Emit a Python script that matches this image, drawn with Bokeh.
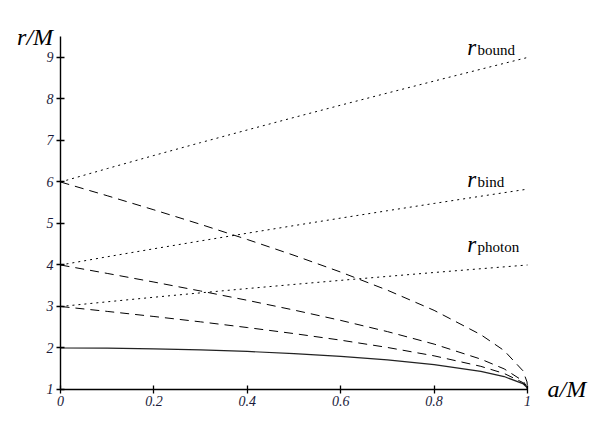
from bokeh.plotting import figure
from bokeh.models import Label, FixedTicker
from bokeh.embed import file_html
from bokeh.resources import INLINE

# spin parameter a/M (prograde curves sampled densely near a=1)
a_pro = [0, 0.1, 0.2, 0.3, 0.4, 0.5, 0.6, 0.7, 0.8, 0.9, 0.95, 0.99, 0.999, 1.0]
r_horizon = [2.0, 1.995, 1.980, 1.954, 1.917, 1.866, 1.800, 1.714, 1.600, 1.436, 1.312, 1.141, 1.045, 1.0]
r_photon_pro = [3.0, 2.882, 2.759, 2.630, 2.493, 2.347, 2.189, 2.013, 1.811, 1.558, 1.386, 1.168, 1.052, 1.0]
r_bound_pro = [4.0, 3.797, 3.589, 3.373, 3.149, 2.914, 2.665, 2.395, 2.094, 1.732, 1.497, 1.210, 1.064, 1.0]
r_isco_pro = [6.0, 5.669, 5.329, 4.979, 4.614, 4.233, 3.829, 3.393, 2.907, 2.321, 1.937, 1.454, 1.182, 1.0]

a_retro = [0, 0.1, 0.2, 0.3, 0.4, 0.5, 0.6, 0.7, 0.8, 0.9, 1.0]
r_photon_retro = [3.0, 3.113, 3.223, 3.329, 3.432, 3.532, 3.630, 3.725, 3.819, 3.910, 4.0]
r_bind_retro = [4.0, 4.198, 4.391, 4.580, 4.766, 4.949, 5.130, 5.308, 5.483, 5.657, 5.828]
r_bound_retro = [6.0, 6.323, 6.639, 6.949, 7.254, 7.555, 7.851, 8.143, 8.432, 8.717, 9.0]

x_ticks = [0, 0.2, 0.4, 0.6, 0.8, 1.0]
x_tick_labels = {0: "0", 0.2: "0.2", 0.4: "0.4", 0.6: "0.6", 0.8: "0.8", 1.0: "1"}
y_ticks = [1, 2, 3, 4, 5, 6, 7, 8, 9]

curve_labels = [("bound", 9.245), ("bind", 6.065), ("photon", 4.495)]

SERIF = "Liberation Serif"

p = figure(frame_width=595, frame_height=423,
           x_range=(-0.1285, 1.1456), y_range=(0.1807, 10.373),
           output_backend="svg", toolbar_location=None,
           min_border_left=0, min_border_right=0, min_border_top=0, min_border_bottom=0)
p.outline_line_color = None
p.xgrid.visible = False
p.ygrid.visible = False
p.background_fill_color = "white"
p.border_fill_color = "white"

p.xaxis[0].fixed_location = 1
p.yaxis[0].fixed_location = 0
p.xaxis[0].bounds = (0, 1)
p.yaxis[0].bounds = (1, 9.5)

for ax, ticks in ((p.xaxis[0], x_ticks), (p.yaxis[0], y_ticks)):
    ax.ticker = FixedTicker(ticks=ticks)
    ax.minor_tick_line_color = None
    ax.major_tick_in = 4
    ax.major_tick_out = 4
    ax.axis_line_color = "black"
    ax.axis_line_width = 1.4
    ax.major_tick_line_color = "black"
    ax.major_tick_line_width = 1.3
    ax.major_label_text_font = SERIF
    ax.major_label_text_font_style = "italic"
    ax.major_label_text_font_size = "14px"
    ax.major_label_text_color = "#1a1a3a"
    ax.major_label_standoff = 3
p.xaxis[0].major_label_overrides = x_tick_labels

# horizon (solid)
p.line(a_pro, r_horizon, line_color="#222222", line_width=1.2)
# prograde orbits (dashed)
for ys in (r_photon_pro, r_bound_pro, r_isco_pro):
    p.line(a_pro, ys, line_color="black", line_width=1.0, line_dash="9 6")
# retrograde orbits (dotted)
for ys in (r_photon_retro, r_bind_retro, r_bound_retro):
    p.line(a_retro, ys, line_color="black", line_width=1.0, line_dash="2 4")

for sub, yv in curve_labels:
    p.add_layout(Label(x=0.871, y=yv, text="r", text_font=SERIF, text_font_style="italic",
                       text_font_size="23px", text_color="black", text_baseline="alphabetic"))
    p.add_layout(Label(x=0.893, y=yv, y_offset=-3, text=sub, text_font=SERIF,
                       text_font_size="15px", text_color="black", text_baseline="alphabetic"))

p.add_layout(Label(x=-0.093, y=9.485, text="r/M", text_font=SERIF, text_font_style="italic",
                   text_font_size="24px", text_color="black", text_baseline="alphabetic"))
p.add_layout(Label(x=1.043, y=1.005, text="a/M", text_font=SERIF, text_font_style="italic",
                   text_font_size="24px", text_color="black", text_baseline="alphabetic"))

open("out.html", "w").write(file_html(p, INLINE))
